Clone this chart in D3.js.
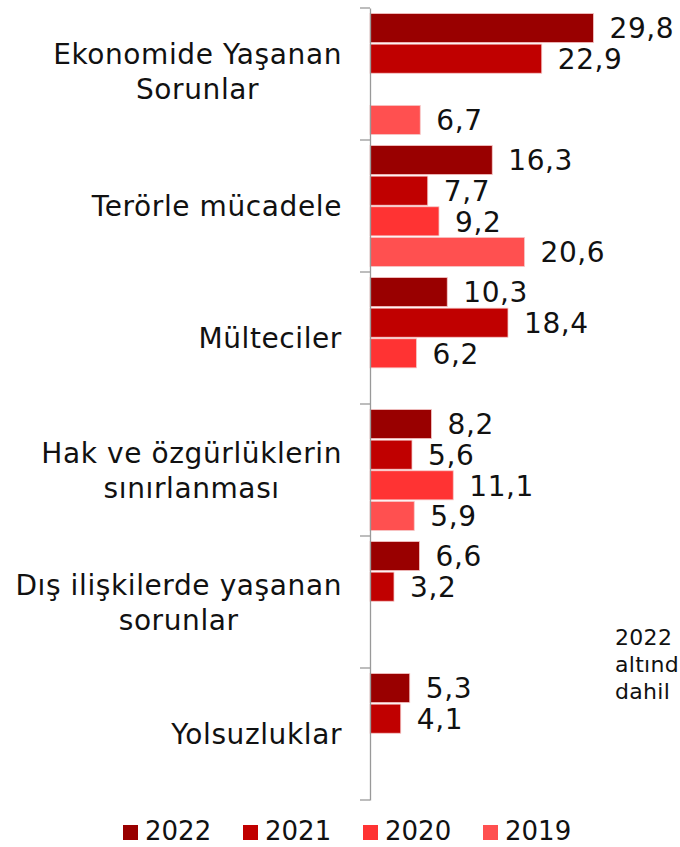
<!DOCTYPE html>
<html lang="tr">
<head>
<meta charset="utf-8">
<title>Sorunlar</title>
<style>
  body { margin: 0; background: #fff; }
  svg text { font-family: Verdana, "DejaVu Sans", sans-serif; fill: #111; }
</style>
<script src="https://cdn.jsdelivr.net/npm/d3@7"></script>
</head>
<body>
<div id="chart"></div>
<script>
// categories (\n = line break in the label)
var categories = [
  "Ekonomide Yaşanan\nSorunlar",
  "Terörle mücadele",
  "Mülteciler",
  "Hak ve özgürlüklerin\nsınırlanması",
  "Dış ilişkilerde yaşanan\nsorunlar",
  "Yolsuzluklar"
];
var years = ["2022", "2021", "2020", "2019"];
var colors = ["#990000", "#C00000", "#FF3333", "#FF5050"];
// null = no bar
var v2022 = [29.8, 16.3, 10.3, 8.2, 6.6, 5.3];
var v2021 = [22.9, 7.7, 18.4, 5.6, 3.2, 4.1];
var v2020 = [null, 9.2, 6.2, 11.1, null, null];
var v2019 = [6.7, 20.6, null, 5.9, null, null];
var noteLines = ["2022", "altınd", "dahil"];

var series = [v2022, v2021, v2020, v2019];
var W = 680, H = 847;

var svg = d3.select("#chart").append("svg")
    .attr("width", W)
    .attr("height", H);

var y = d3.scaleBand().domain(categories).range([8, 800]).padding(0);
var yi = d3.scaleBand().domain(years).range([0, y.bandwidth()])
    .paddingInner(0.05).paddingOuter(0.18);
var x = d3.scaleLinear().domain([0, 40]).range([370, 670]);
var color = d3.scaleOrdinal().domain(years).range(colors);

// flatten to bar records
var bars = [];
categories.forEach(function (c, i) {
  years.forEach(function (yr, j) {
    var v = series[j][i];
    if (v != null) bars.push({ cat: c, year: yr, value: v });
  });
});

// bars
svg.append("g").selectAll("rect")
    .data(bars)
    .enter().append("rect")
    .attr("x", x(0))
    .attr("y", d => y(d.cat) + yi(d.year))
    .attr("width", d => x(d.value) - x(0))
    .attr("height", yi.bandwidth())
    .attr("fill", d => color(d.year))
    .attr("stroke", "#f6c8c8")
    .attr("stroke-width", 0.8);

// value labels
var fmt = d3.format(".1f");
svg.append("g").selectAll("text")
    .data(bars)
    .enter().append("text")
    .attr("x", d => x(d.value) + 16)
    .attr("y", d => y(d.cat) + yi(d.year) + yi.bandwidth() / 2)
    .attr("dy", "0.37em")
    .attr("font-size", 28)
    .attr("letter-spacing", 0.6)
    .text(d => fmt(d.value).replace(".", ","));

// y axis: line + ticks at category boundaries
var axis = d3.axisLeft(y).tickSize(0).tickFormat("");
var gAxis = svg.append("g")
    .attr("transform", "translate(" + x(0) + ",0)")
    .call(axis);
gAxis.select(".domain").attr("stroke", "#999").attr("stroke-width", 1.3);
var bounds = categories.map(c => y(c)).concat([y.range()[1]]);
gAxis.selectAll(".bound")
    .data(bounds)
    .enter().append("line")
    .attr("class", "bound")
    .attr("x1", -10).attr("x2", 0)
    .attr("y1", d => d).attr("y2", d => d)
    .attr("stroke", "#999")
    .attr("stroke-width", 1.3);

// category labels: block right-aligned, lines centered inside the block
var lh = 35;
categories.forEach(function (c, i) {
  var lines = c.split("\n");
  var g = svg.append("g");
  var cy = y(c) + y.bandwidth() / 2 - (i === 0 ? 3 : 0);
  var texts = lines.map(function (ln, k) {
    return g.append("text")
      .attr("font-size", 28)
      .attr("letter-spacing", 0.6)
      .attr("text-anchor", "middle")
      .attr("y", cy + (k - (lines.length - 1) / 2) * lh)
      .attr("dy", "0.36em")
      .text(ln);
  });
  var maxW = d3.max(texts, t => t.node().getComputedTextLength());
  var cx = 342 - maxW / 2;
  texts.forEach(t => t.attr("x", cx));
});

// legend
var leg = svg.append("g").selectAll("g")
    .data(years)
    .enter().append("g")
    .attr("transform", (d, i) => "translate(" + (123 + i * 120) + ",825)");
leg.append("rect")
    .attr("width", 15).attr("height", 15)
    .attr("fill", d => color(d));
leg.append("text")
    .attr("x", 22).attr("y", 15)
    .attr("font-size", 26)
    .text(d => d);

// side note
svg.append("g").selectAll("text")
    .data(noteLines)
    .enter().append("text")
    .attr("x", 615)
    .attr("y", (d, i) => 645 + i * 27)
    .attr("font-size", 22)
    .attr("letter-spacing", 0.3)
    .text(d => d);
</script>
</body>
</html>
